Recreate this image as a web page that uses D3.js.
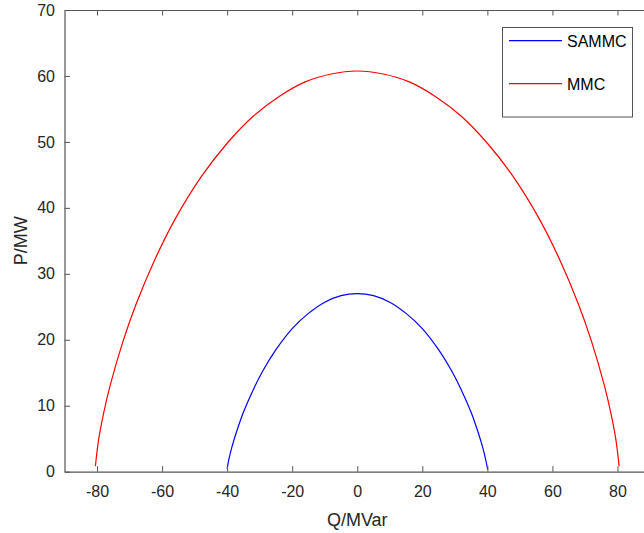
<!DOCTYPE html>
<html>
<head>
<meta charset="utf-8">
<script src="https://cdn.jsdelivr.net/npm/d3@7"></script>
<style>
  body { margin: 0; background: #fff; }
  svg { display: block; font-family: "Liberation Sans", Arial, sans-serif; }
</style>
</head>
<body>
<div id="chart"></div>
<script>
// ---------- data ----------
const mmcQ = [-80.5, -79.5, -78, -76, -72, -68, -62, -56, -48, -40, -32, -24, -16, -8, 0, 8, 16, 24, 32, 40, 48, 56, 62, 68, 72, 76, 78, 79.5, 80.5];
const mmcP = [0.85, 4.9, 8.8, 13.0, 19.8, 25.4, 32.4, 38.3, 44.7, 49.8, 53.9, 56.9, 59.1, 60.3, 60.75, 60.3, 59.1, 56.9, 53.9, 49.8, 44.7, 38.3, 32.4, 25.4, 19.8, 13.0, 8.8, 4.9, 0.85];

const sammcQ = [-40.0, -39.5, -38.5, -37, -35, -32, -29, -25, -20, -15, -10, -5, 0, 5, 10, 15, 20, 25, 29, 32, 35, 37, 38.5, 39.5, 40.1];
const sammcP = [0.45, 1.8, 3.8, 6.2, 9.0, 12.4, 15.3, 18.5, 21.7, 24.0, 25.7, 26.7, 27.0, 26.7, 25.7, 24.0, 21.7, 18.5, 15.3, 12.4, 9.0, 6.2, 3.8, 1.8, 0.3];

const series = [
  { name: "SAMMC", color: "#0000ff", q: sammcQ, p: sammcP },
  { name: "MMC", color: "#ff0000", q: mmcQ, p: mmcP },
];

const xTicks = [-80, -60, -40, -20, 0, 20, 40, 60, 80];
const yTicks = [0, 10, 20, 30, 40, 50, 60, 70];

// ---------- layout ----------
const W = 644, H = 533;
const mLeft = 64.5, mRight = 650, mTop = 10, mBottom = 471.7;
const axisColor = "#555";
const textColor = "#262626";
const plainNum = (d) => String(d); // hyphen minus, like MATLAB

const svg = d3.select("#chart").append("svg").attr("width", W).attr("height", H);

const x = d3.scaleLinear().domain([-90, 90]).range([mLeft, mRight]);
const y = d3.scaleLinear().domain([0, 70]).range([mBottom, mTop]);

// ---------- curves ----------
const line = d3.line()
  .x((d) => x(d[0]))
  .y((d) => y(d[1]))
  .curve(d3.curveCatmullRom.alpha(0.5));

svg.append("g")
  .selectAll("path")
  .data(series)
  .enter()
  .append("path")
  .attr("d", (s) => line(s.q.map((q, i) => [q, s.p[i]])))
  .attr("fill", "none")
  .attr("stroke", (s) => s.color)
  .attr("stroke-width", 1.2);

// ---------- axes (box with inward ticks) ----------
function styleAxis(g) {
  g.select(".domain").attr("stroke", axisColor).attr("stroke-width", 1.2);
  g.selectAll(".tick line").attr("stroke", axisColor);
  g.selectAll("text")
    .attr("fill", textColor)
    .attr("font-size", 16)
    .attr("font-family", "Liberation Sans, Arial, sans-serif");
}

svg.append("g")
  .attr("transform", `translate(0,${mBottom})`)
  .call(d3.axisBottom(x).tickValues(xTicks).tickFormat(plainNum).tickSizeInner(-5.5).tickSizeOuter(0).tickPadding(14))
  .call(styleAxis);

svg.append("g")
  .attr("transform", `translate(0,${mTop})`)
  .call(d3.axisTop(x).tickValues(xTicks).tickSizeInner(-5.5).tickSizeOuter(0).tickFormat(""))
  .call(styleAxis);

svg.append("g")
  .attr("transform", `translate(${mLeft},0)`)
  .call(d3.axisLeft(y).tickValues(yTicks).tickFormat(plainNum).tickSizeInner(-5.5).tickSizeOuter(0).tickPadding(9.5))
  .call(styleAxis);

svg.append("g")
  .attr("transform", `translate(${mRight},0)`)
  .call(d3.axisRight(y).tickValues(yTicks).tickSizeInner(-5.5).tickSizeOuter(0).tickFormat(""))
  .call(styleAxis);

// ---------- axis labels ----------
svg.append("text")
  .attr("x", x(0))
  .attr("y", 526)
  .attr("text-anchor", "middle")
  .attr("font-size", 18)
  .attr("fill", textColor)
  .text("Q/MVar");

svg.append("text")
  .attr("transform", `translate(26.5,${y(35)}) rotate(-90)`)
  .attr("text-anchor", "middle")
  .attr("font-size", 18)
  .attr("fill", textColor)
  .text("P/MW");

// ---------- legend ----------
const lg = svg.append("g");
lg.append("rect")
  .attr("x", 502.5).attr("y", 27.5)
  .attr("width", 130).attr("height", 89.5)
  .attr("fill", "#fff")
  .attr("stroke", axisColor)
  .attr("stroke-width", 1);

const items = lg.selectAll("g.item")
  .data(series)
  .enter()
  .append("g")
  .attr("transform", (d, i) => `translate(0,${40.7 + i * 43})`);

items.append("line")
  .attr("x1", 509).attr("x2", 562)
  .attr("stroke", (d) => d.color)
  .attr("stroke-width", 1.2);

items.append("text")
  .attr("x", 567)
  .attr("y", 6)
  .attr("font-size", 16)
  .attr("fill", "#000")
  .text((d) => d.name);
</script>
</body>
</html>
